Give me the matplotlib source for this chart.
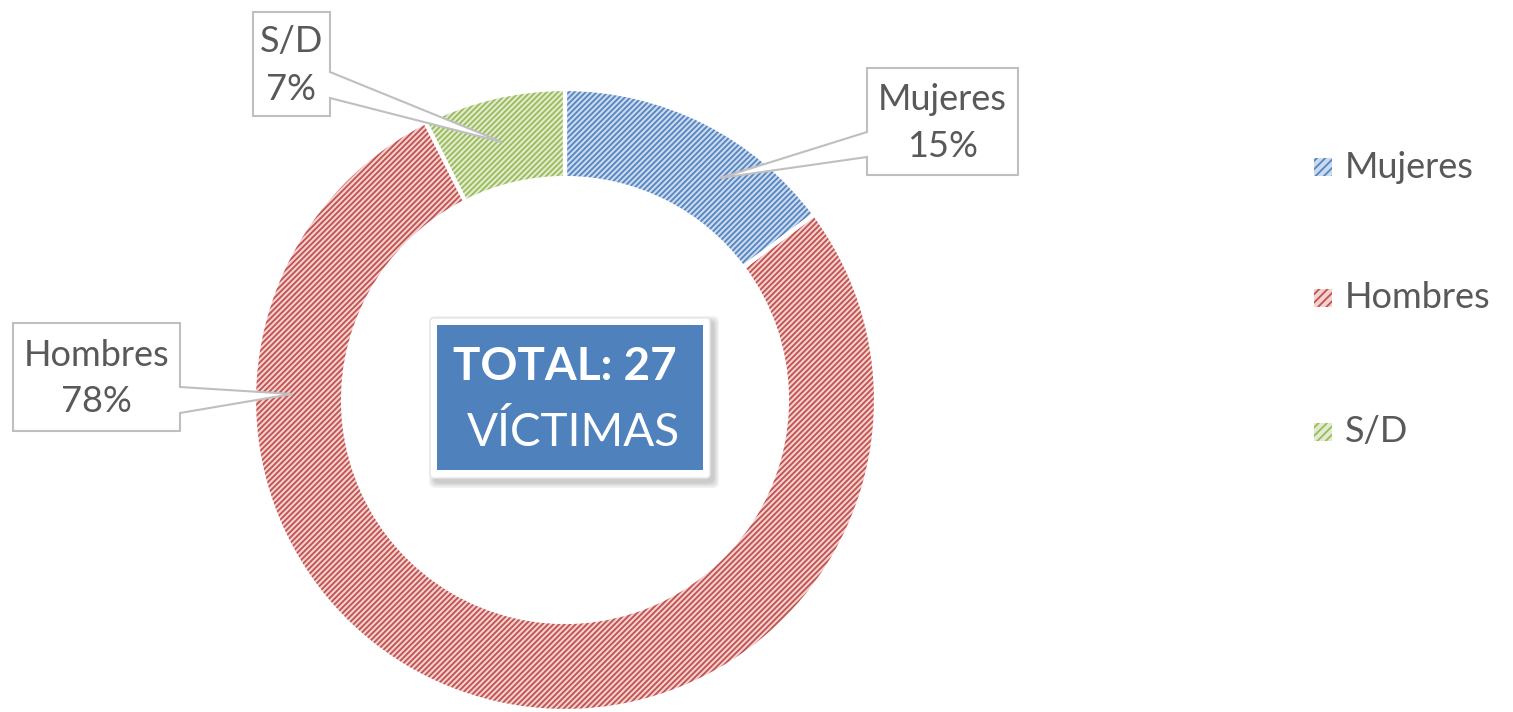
import matplotlib
matplotlib.use("Agg")
import matplotlib.pyplot as plt
from matplotlib.patches import Polygon, Rectangle, FancyBboxPatch

# data
categories = ["Mujeres", "Hombres", "S/D"]
victims = [4, 21, 2]

face_colors = ["#CCDAEF", "#F1D2D1", "#E0EBCF"]
line_colors = ["#5585C0", "#C4504D", "#9BBB59"]

W, H = 1513, 712
TEXT = "#595959"
FONT = "Lato"

plt.rcParams["hatch.linewidth"] = 1.3


def Y(y):
    # layout given in image pixels (top-down)
    return H - y


fig = plt.figure(figsize=(W / 100, H / 100), dpi=100)
ax = fig.add_axes([0, 0, 1, 1])

# donut
center = (565, Y(400))
r_out, r_in = 311, 222
wedges, _ = ax.pie(victims, radius=r_out, center=center, startangle=90, counterclock=False,
                   colors=face_colors, wedgeprops=dict(width=r_out - r_in, linewidth=0))
for w, lc in zip(wedges, line_colors):
    w.set_edgecolor(lc)
    w.set_hatch("//////")
    w.set_linewidth(0)
# white separators
ax.pie(victims, radius=r_out, center=center, startangle=90, counterclock=False,
       wedgeprops=dict(width=r_out - r_in, facecolor="none", edgecolor="white", linewidth=3))

ax.set_xlim(0, W)
ax.set_ylim(0, H)
ax.set_aspect("equal")
ax.axis("off")

# callout labels: box (x0, y0, x1, y1), pointer side, pointer base ys, tip
callouts = {
    "Mujeres": dict(box=(867, 68, 1018, 175), side="left", base=(132, 157), tip=(720, 178)),
    "Hombres": dict(box=(13, 323, 180, 431), side="right", base=(387, 413), tip=(292, 394)),
    "S/D": dict(box=(253, 12, 330, 116), side="right", base=(72, 98), tip=(502, 142)),
}
total = sum(victims)
for cat, val in zip(categories, victims):
    c = callouts[cat]
    x0, y0, x1, y1 = c["box"]
    b0, b1 = c["base"]
    if c["side"] == "left":
        pts = [(x0, y0), (x1, y0), (x1, y1), (x0, y1), (x0, b1), c["tip"], (x0, b0)]
    else:
        pts = [(x0, y0), (x1, y0), (x1, b0), c["tip"], (x1, b1), (x1, y1), (x0, y1)]
    pts = [(px, Y(py)) for px, py in pts]
    ax.add_patch(Polygon(pts, closed=True, facecolor="white", edgecolor="#BFBFBF", linewidth=1.5, zorder=5))
    cx = (x0 + x1) / 2
    cy = (y0 + y1) / 2
    ax.text(cx, Y(cy - 22), cat, ha="center", va="center", fontsize=26, color=TEXT,
            family=FONT, zorder=6)
    ax.text(cx, Y(cy + 25), "%d%%" % round(100 * val / total), ha="center", va="center",
            fontsize=26, color=TEXT, family=FONT, zorder=6)

# center box with shadow
for i, a in enumerate([0.05, 0.05, 0.05, 0.06]):
    g = 6 - i * 1.5
    ax.add_patch(FancyBboxPatch((432 + 3 - g, Y(478) - 4 - g), 278 + 2 * g, 160 + 2 * g,
                                boxstyle="round,pad=0,rounding_size=6", facecolor="black",
                                edgecolor="none", alpha=a, zorder=6))
ax.add_patch(FancyBboxPatch((430, Y(478)), 280, 160, boxstyle="round,pad=0,rounding_size=4",
                            facecolor="white", edgecolor="#E6E6E6", linewidth=1, zorder=7))
ax.add_patch(Rectangle((437, Y(470)), 266, 145, facecolor="#4F81BD", edgecolor="none", zorder=8))
ax.text(565, Y(367), "TOTAL: %d" % total, ha="center", va="center", fontsize=33,
        fontweight="bold", color="white", family=FONT, zorder=9)
ax.text(573, Y(433), "VÍCTIMAS", ha="center", va="center", fontsize=33,
        color="white", family=FONT, zorder=9)

# legend
leg_y = [167, 298, 432]
for cat, fc, lc, ly in zip(categories, face_colors, line_colors, leg_y):
    ax.add_patch(Rectangle((1314, Y(ly) - 9), 18, 18, facecolor=fc, edgecolor=lc,
                           hatch="////", linewidth=0, zorder=5))
    ax.text(1345, Y(ly), cat, ha="left", va="center", fontsize=26, color=TEXT, family=FONT)

fig.savefig("out.png", dpi=100)
